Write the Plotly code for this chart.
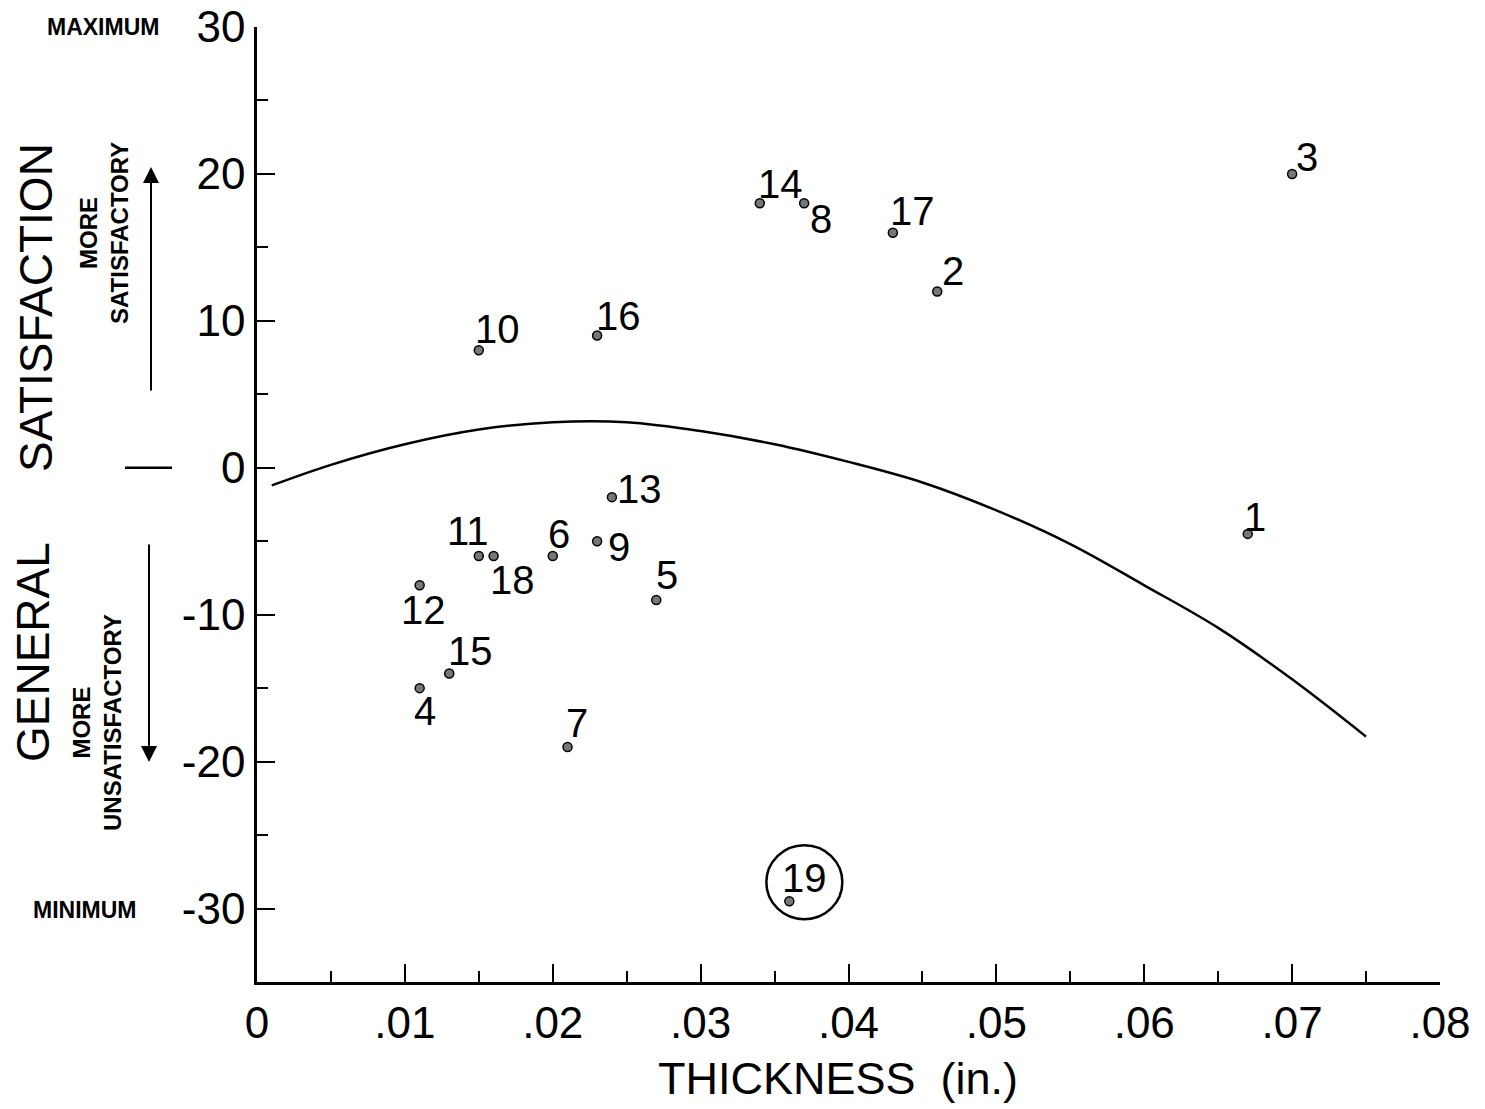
import plotly.graph_objects as go

# ---------------- data ----------------
ids = ["1", "2", "3", "4", "5", "6", "7", "8", "9", "10",
       "11", "12", "13", "14", "15", "16", "17", "18", "19"]
thickness = [0.067, 0.046, 0.070, 0.011, 0.027, 0.020, 0.021, 0.037, 0.023, 0.015,
             0.015, 0.011, 0.024, 0.034, 0.013, 0.023, 0.043, 0.016, 0.036]
satisfaction = [-4.5, 12, 20, -15, -9, -6, -19, 18, -5, 8,
                -6, -8, -2, 18, -14, 9, 16, -6, -29.5]

curve_x = [0.001, 0.005, 0.010, 0.015, 0.020, 0.025, 0.030, 0.035,
           0.040, 0.045, 0.050, 0.055, 0.060, 0.065, 0.070, 0.075]
curve_y = [-1.2, 0.2, 1.6, 2.6, 3.1, 3.1, 2.5, 1.6,
           0.4, -1.0, -2.9, -5.2, -8.0, -10.9, -14.4, -18.3]

x_tickvals = [0, 0.01, 0.02, 0.03, 0.04, 0.05, 0.06, 0.07, 0.08]
x_ticktext = ["0", ".01", ".02", ".03", ".04", ".05", ".06", ".07", ".08"]
y_tickvals = [-30, -20, -10, 0, 10, 20, 30]
y_ticktext = ["-30", "-20", "-10", "0", "10", "20", "30"]

circled_id = "19"

# ---------------- styles ----------------
FONT = "Liberation Sans"
label_offsets = {  # pixel offsets of number labels from their point
    "1": (7, 17), "2": (16, 20), "3": (15, 17), "4": (5, -23), "5": (11, 25),
    "6": (6, 22), "7": (9, 24), "8": (17, -16), "9": (22, -6), "10": (19, 21),
    "11": (-11, 25), "12": (4, -25), "13": (28, 8), "14": (21, 19), "15": (21, 22),
    "16": (21, 20), "17": (20, 22), "18": (19, -24), "19": (15, 23),
}

W, H = 1485, 1109
L, R, T, B = 257, 1440, 27, 982  # plot area in page pixels

fig = go.Figure()

fig.add_trace(go.Scatter(
    x=curve_x, y=curve_y, mode="lines", line=dict(color="black", width=2.5, shape="spline"),
    hoverinfo="skip", showlegend=False))

fig.add_trace(go.Scatter(
    x=thickness, y=satisfaction, mode="markers",
    marker=dict(size=9, color="#777777", line=dict(color="black", width=1.5)),
    showlegend=False))

annotations = []
for i, x, y in zip(ids, thickness, satisfaction):
    dx, dy = label_offsets[i]
    annotations.append(dict(x=x, y=y, xref="x", yref="y", text=i, showarrow=False,
                            xshift=dx, yshift=dy, xanchor="center", yanchor="middle",
                            font=dict(family=FONT, size=40, color="black")))

# circle around point 19
ci = ids.index(circled_id)
fig.add_shape(type="circle", xref="x", yref="y", xsizemode="pixel", ysizemode="pixel",
              xanchor=thickness[ci], yanchor=satisfaction[ci],
              x0=15 - 38, x1=15 + 38, y0=19 - 37, y1=19 + 37,
              line=dict(color="black", width=2.5))

def px(p):
    return (p - L) / (R - L)
def py(p):
    return (B - p) / (B - T)

big = dict(family=FONT, size=46, color="black")
small_bold = dict(family=FONT, size=24, color="black")

def note(xp, yp, text, font, angle=0):
    return dict(x=px(xp), y=py(yp), xref="paper", yref="paper", text=text,
                textangle=angle, showarrow=False, font=font, align="center",
                xanchor="center", yanchor="middle")

annotations += [
    note(36, 308, "SATISFACTION", big, -90),
    note(33, 652, "GENERAL", big, -90),
    note(104, 233, "<b>MORE<br>SATISFACTORY</b>", small_bold, -90),
    note(97, 722, "<b>MORE<br>UNSATISFACTORY</b>", small_bold, -90),
    note(103, 27, "<b>MAXIMUM</b>", dict(family=FONT, size=23, color="black")),
    note(84, 910, "<b>MINIMUM</b>", dict(family=FONT, size=23, color="black")),
    note(838, 1078, "THICKNESS  (in.)", dict(family=FONT, size=45, color="black")),
    # arrows
    dict(x=px(151), y=py(167), xref="paper", yref="paper", text="", showarrow=True,
         ax=0, ay=225, arrowhead=2, arrowsize=1.6, arrowwidth=2, arrowcolor="black"),
    dict(x=px(149), y=py(762), xref="paper", yref="paper", text="", showarrow=True,
         ax=0, ay=-219, arrowhead=2, arrowsize=1.6, arrowwidth=2, arrowcolor="black"),
]

fig.add_shape(type="line", xref="paper", yref="y", x0=px(125), x1=px(172), y0=0, y1=0,
              line=dict(color="black", width=2.5))

fig.update_layout(
    width=W, height=H,
    margin=dict(l=L, r=W - R, t=T, b=H - B, autoexpand=False),
    paper_bgcolor="white", plot_bgcolor="white",
    annotations=annotations,
    showlegend=False,
)
fig.update_xaxes(
    range=[0, 0.08], showgrid=False, zeroline=False, showline=True, linecolor="black",
    linewidth=2.5, ticks="inside", ticklen=18, tickwidth=2, tickcolor="black",
    tickvals=x_tickvals, ticktext=x_ticktext, automargin=False, ticklabeloverflow="allow",
    tickfont=dict(family=FONT, size=44, color="black"),
    minor=dict(ticks="inside", dtick=0.005, ticklen=11, tickwidth=2, tickcolor="black", showgrid=False),
)
fig.update_yaxes(
    range=[-35, 30], showgrid=False, zeroline=False, showline=True, linecolor="black",
    linewidth=2.5, ticks="inside", ticklen=18, tickwidth=2, tickcolor="black",
    tickvals=y_tickvals, ticktext=y_ticktext, automargin=False, ticklabeloverflow="allow",
    tickfont=dict(family=FONT, size=44, color="black"),
    minor=dict(ticks="inside", dtick=5, tick0=0, ticklen=11, tickwidth=2, tickcolor="black", showgrid=False),
)

fig.write_html("out.html", config={"displayModeBar": False},
               post_script="document.body.style.margin='0';document.body.style.overflow='hidden';")
